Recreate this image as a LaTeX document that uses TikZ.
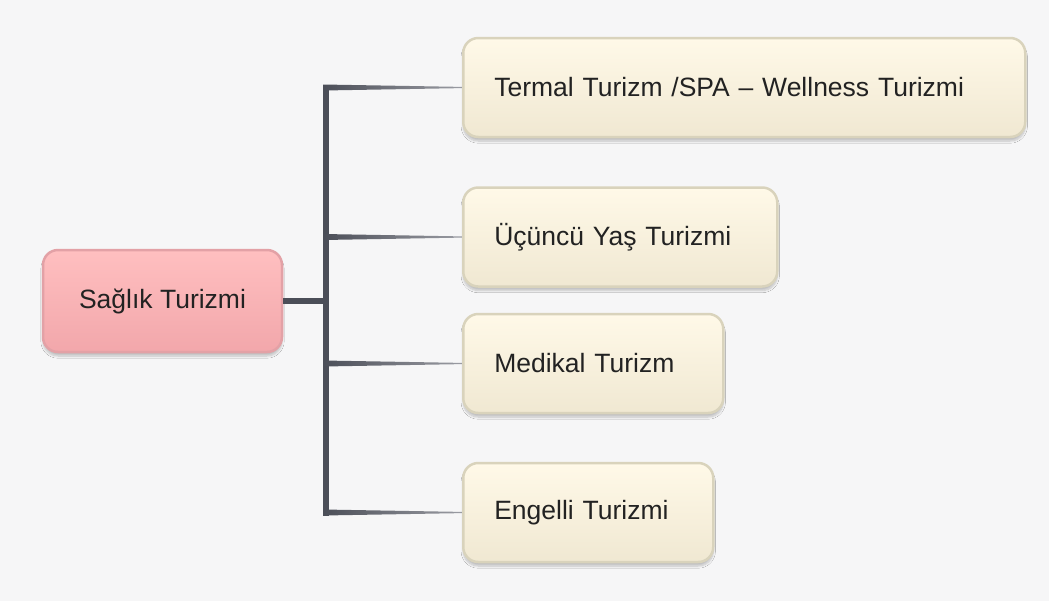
\documentclass[tikz,border=0pt]{standalone}
\usepackage{fontspec}
\setmainfont{Liberation Sans}
\usetikzlibrary{calc,shadows.blur}
\definecolor{bg}{HTML}{F6F6F7}
\definecolor{conn}{HTML}{4B4E58}
\definecolor{connlight}{HTML}{9A9CA3}
\definecolor{creamtop}{HTML}{FFF9E8}
\definecolor{creambot}{HTML}{F0E8D2}
\definecolor{creamline}{HTML}{D9D3BC}
\definecolor{pinktop}{HTML}{FFBFC0}
\definecolor{pinkbot}{HTML}{F2A7AB}
\definecolor{pinkline}{HTML}{E3A1A6}
\definecolor{txt}{HTML}{222222}
\tikzset{
  basebox/.style={rounded corners=15pt, line width=2.5pt, minimum height=99pt,
    font=\fontsize{26.5pt}{30pt}\selectfont, text=txt,
    blur shadow={shadow blur steps=8, shadow xshift=0pt, shadow yshift=-4pt, shadow opacity=22}},
  rootbox/.style={basebox, draw=pinkline, top color=pinktop, bottom color=pinkbot,
    minimum width=239pt, minimum height=102pt},
  leafbox/.style={basebox, draw=creamline, top color=creamtop, bottom color=creambot,
    anchor=west, inner xsep=31pt, align=left},
}
\begin{document}
\begin{tikzpicture}[x=1pt,y=-1pt]
\useasboundingbox (0,0) rectangle (1049,606);
\fill[bg] (0,0) rectangle (1049,601);
% nodes
\node[rootbox] (root) at (162.5,301) {Sağlık Turizmi};
\node[leafbox, text width=500pt] (t1) at (462,87.5) {Termal Turizm /SPA – Wellness Turizmi};
\node[leafbox, text width=252pt] (t2) at (462,237) {Üçüncü Yaş Turizmi};
\node[leafbox, text width=198pt] (t3) at (462,363.5) {Medikal Turizm};
\node[leafbox, text width=188pt] (t4) at (462,512.5) {Engelli Turizmi};
% trunk
\coordinate (jtop) at (323,84.5);
\coordinate (jbot) at (329,515.5);
\coordinate (jmid) at (326,300.5);
\fill[conn] (jtop) rectangle (jbot);
\fill[conn] ($(root.east)+(0,-3)$) rectangle ($(jmid)+(0,3)$);
% tapered branches
\foreach \t in {t1,t2,t3,t4}{
  \path let \p1=(\t.west) in coordinate (a) at (323,\y1);
  \shade[left color=conn, right color=connlight]
    ($(a)+(0,-3)$) -- ($(\t.west)+(0,-0.6)$) -- ($(\t.west)+(0,0.6)$) -- ($(a)+(0,3)$) -- cycle;
}
\end{tikzpicture}
\end{document}
